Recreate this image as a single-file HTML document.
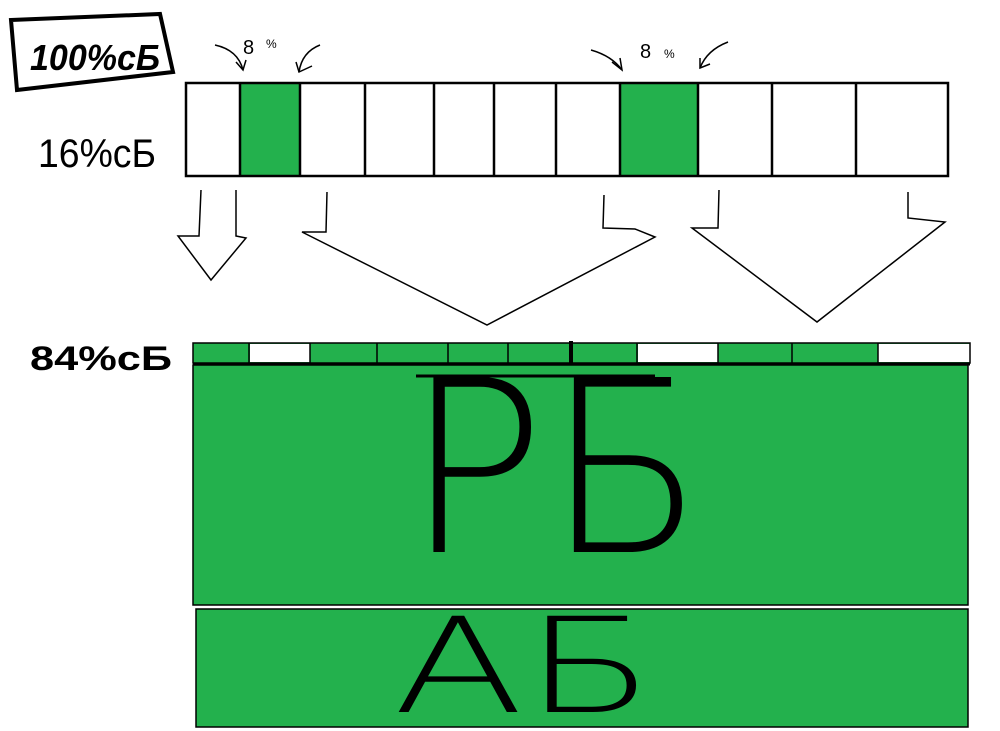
<!DOCTYPE html>
<html><head><meta charset="utf-8"><style>
html,body{margin:0;padding:0;background:#fff;width:1000px;height:731px;overflow:hidden}
svg{display:block}
text{font-family:"Liberation Sans","DejaVu Sans",sans-serif;fill:#000}
.big{font-family:"DejaVu Sans ExtraLight","DejaVu Sans",sans-serif;font-weight:200}
</style></head><body>
<svg width="1000" height="731" viewBox="0 0 1000 731" xmlns="http://www.w3.org/2000/svg">
<polygon points="11,20 160,14 173,72 17,90" fill="none" stroke="#000" stroke-width="4"/>
<text x="30" y="70" font-size="36" font-weight="bold" textLength="130" lengthAdjust="spacingAndGlyphs" font-style="italic">100%сБ</text>
<text x="38" y="167" font-size="40" textLength="118" lengthAdjust="spacingAndGlyphs">16%сБ</text>
<text x="30" y="370" font-size="34" font-weight="bold" textLength="142" lengthAdjust="spacingAndGlyphs">84%сБ</text>

<text x="243" y="54" font-size="20">8</text><text x="266" y="48" font-size="12">%</text>
<path d="M215,45 Q238,50 243,70" fill="none" stroke="#000" stroke-width="1.5"/>
<path d="M236,62 L243,70 L246,60" fill="none" stroke="#000" stroke-width="1.5"/>
<path d="M320,45 Q302,52 299,72" fill="none" stroke="#000" stroke-width="1.5"/>
<path d="M296,62 L299,72 L312,66" fill="none" stroke="#000" stroke-width="1.5"/>
<text x="640" y="58" font-size="20">8</text><text x="664" y="58" font-size="12">%</text>
<path d="M591,50 Q612,56 622,70" fill="none" stroke="#000" stroke-width="1.5"/>
<path d="M612,62 L622,70 L620,58" fill="none" stroke="#000" stroke-width="1.5"/>
<path d="M728,42 Q707,50 700,68" fill="none" stroke="#000" stroke-width="1.5"/>
<path d="M700,58 L700,68 L710,64" fill="none" stroke="#000" stroke-width="1.5"/>

<rect x="240" y="83" width="60" height="93" fill="#23b14d"/>
<rect x="620" y="83" width="78" height="93" fill="#23b14d"/>
<rect x="186" y="83" width="762" height="93" fill="none" stroke="#000" stroke-width="2.5"/>
<g stroke="#000" stroke-width="2.5">
<line x1="240" y1="83" x2="240" y2="176"/><line x1="300" y1="83" x2="300" y2="176"/>
<line x1="365" y1="83" x2="365" y2="176"/><line x1="434" y1="83" x2="434" y2="176"/>
<line x1="494" y1="83" x2="494" y2="176"/><line x1="556" y1="83" x2="556" y2="176"/>
<line x1="620" y1="83" x2="620" y2="176"/><line x1="698" y1="83" x2="698" y2="176"/>
<line x1="772" y1="83" x2="772" y2="176"/><line x1="856" y1="83" x2="856" y2="176"/>
</g>

<g fill="none" stroke="#000" stroke-width="1.5">
<polyline points="201,190 199,236 178,236 211,280 246,238 236,236 236,190"/>
<polyline points="327,192 326,232 302,232 487,325 655,237 635,229 603,228 604,195"/>
<polyline points="719,190 718,228 692,228 817,322 945,222 908,218 908,192"/>
</g>

<rect x="193" y="343" width="777" height="20" fill="#23b14d"/>
<rect x="250" y="344" width="60" height="18" fill="#fff"/>
<rect x="638" y="344" width="80" height="18" fill="#fff"/>
<rect x="878" y="344" width="92" height="18" fill="#fff"/>
<rect x="193" y="343" width="777" height="20" fill="none" stroke="#000" stroke-width="1.5"/>
<g stroke="#000" stroke-width="1.5">
<line x1="249" y1="343" x2="249" y2="363"/><line x1="310" y1="343" x2="310" y2="363"/>
<line x1="377" y1="343" x2="377" y2="363"/><line x1="448" y1="343" x2="448" y2="363"/>
<line x1="508" y1="343" x2="508" y2="363"/><line x1="571" y1="341" x2="571" y2="365" stroke-width="4"/>
<line x1="637" y1="343" x2="637" y2="363"/><line x1="718" y1="343" x2="718" y2="363"/>
<line x1="792" y1="343" x2="792" y2="363"/><line x1="878" y1="343" x2="878" y2="363"/>
</g>
<line x1="193" y1="364" x2="970" y2="364" stroke="#000" stroke-width="3"/>

<rect x="193" y="365" width="775" height="240" fill="#23b14d" stroke="#000" stroke-width="1.5"/>
<line x1="416" y1="376" x2="655" y2="376" stroke="#000" stroke-width="3"/>
<text class="big" x="405" y="552" font-size="240" textLength="300" lengthAdjust="spacingAndGlyphs">РБ</text>

<rect x="196" y="609" width="772" height="118" fill="#23b14d" stroke="#000" stroke-width="1.5"/>
<text class="big" x="393" y="712" font-size="132" textLength="262" lengthAdjust="spacingAndGlyphs">АБ</text>
</svg>
</body></html>
